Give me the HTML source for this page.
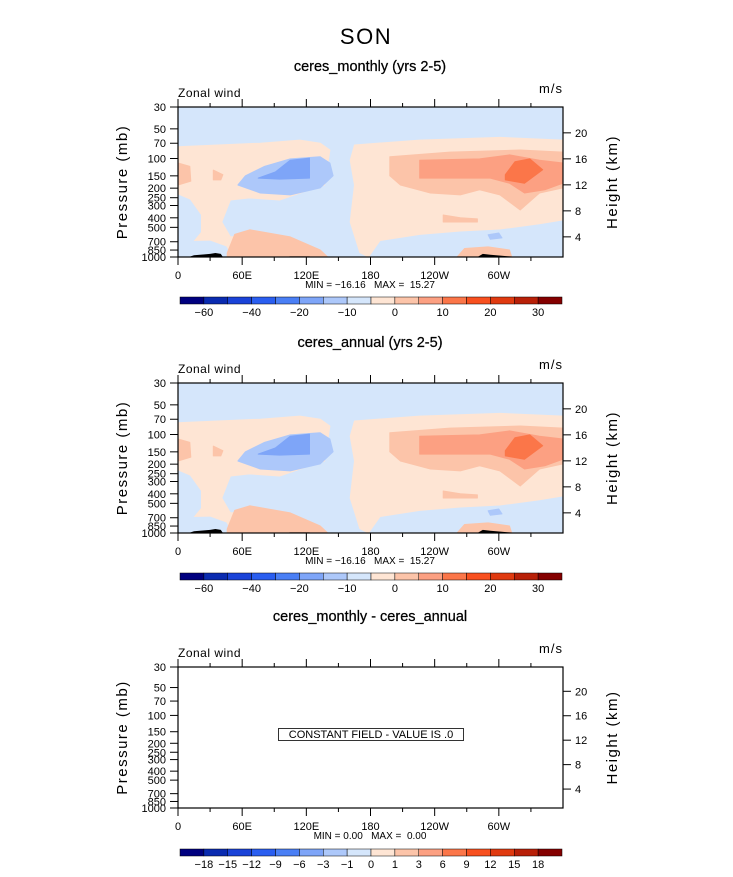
<!DOCTYPE html>
<html><head><meta charset="utf-8">
<style>
body{margin:0;background:#fff;}
svg text{font-family:"Liberation Sans",sans-serif;fill:#000;}
</style></head>
<body>
<svg id="chart" width="733" height="872" viewBox="0 0 733 872" xmlns="http://www.w3.org/2000/svg">
<text x="366" y="44" font-size="22" text-anchor="middle" font-weight="300" fill="#222" style="letter-spacing:1.5px">SON</text>
</svg>
<script>
// ---- data ----
const pressureTicks=[30,50,70,100,150,200,250,300,400,500,700,850,1000];
const heightTicks=[20,16,12,8,4];
const lonTicks=[0,60,120,180,240,300];
const lonLabels=["0","60E","120E","180","120W","60W"];
const cbColors=["#00007f","#0a2bb0","#1a43d8","#2a5ef0","#4a7ff5","#7ea5f8","#adc8fa","#d5e6fb","#fee5d4","#fcc4a9","#fca082","#fb7649","#f8501f","#e03a10","#b82008","#840000"];
const cbLabelsMain=["-60","","-40","","-20","","-10","","0","","10","","20","","30"];
const cbLabelsDiff=["-18","-15","-12","-9","-6","-3","-1","0","1","3","6","9","12","15","18"];
const panelTitles=["ceres_monthly (yrs 2-5)","ceres_annual (yrs 2-5)","ceres_monthly - ceres_annual"];
const minVals=["-16.16","-16.16","0.00"];
const maxVals=["15.27","15.27","0.00"];
// contour regions: [colorIndex, [[lon,p],...]]
const contours=[
 [8,[[0,76],[77,70],[114,65],[133,70],[142,82],[137,186],[123,208],[95,264],[67,251],[49,264],[41,441],[49,625],[77,595],[105,752],[133,1000],[0,1000]]],
 [7,[[0,234],[11,264],[21,375],[21,556],[11,752],[0,808]]],
 [7,[[0,700],[30,690],[45,790],[50,1000],[0,1000]]],
 [8,[[165,73],[226,65],[301,61],[360,65],[360,420],[338,460],[301,520],[264,545],[226,590],[189,680],[178,1000],[170,900],[161,441],[165,186],[161,104]]],
 [9,[[198,96],[254,86],[320,82],[360,86],[360,199],[338,224],[320,333],[301,234],[282,208],[264,234],[236,224],[208,186],[198,150]]],
 [10,[[226,104],[282,101],[310,92],[338,104],[360,111],[360,178],[343,208],[324,224],[310,178],[292,158],[226,158]]],
 [11,[[306,146],[315,108],[329,101],[341,130],[324,178],[306,165]]],
 [9,[[248,375],[264,400],[280,410],[280,441],[248,441]]],
 [9,[[46,910],[53,590],[67,530],[105,625],[133,850],[140,1000],[46,1000]]],
 [9,[[261,1000],[268,820],[290,790],[310,850],[312,1000]]],
 [9,[[33,131],[42,146],[40,165],[33,165]]],
 [9,[[0,111],[11,120],[12,170],[0,186]]],
 [6,[[56,186],[63,150],[81,120],[105,101],[133,96],[142,111],[145,150],[133,199],[105,234],[77,224]]],
 [5,[[75,158],[91,137],[105,104],[123,99],[123,158],[95,162]]],
 [6,[[290,595],[300,570],[303,640],[292,660]]]
];
const topo=[[[10,1000],[15,960],[30,930],[35,910],[40,930],[42,1000]],[[98,1000],[105,985],[123,985],[125,1000]],[[280,1000],[285,930],[292,950],[310,985],[320,1000]]];

const NS="http://www.w3.org/2000/svg";
const svg=document.getElementById('chart');
function mk(tag,attrs,parent){const e=document.createElementNS(NS,tag);for(const k in attrs)e.setAttribute(k,attrs[k]);(parent||svg).appendChild(e);return e;}

const panels=[{top:107,bot:257,cbY:297,title:64,fill:true,labels:cbLabelsMain},
              {top:383,bot:533,cbY:573,title:340,fill:true,labels:cbLabelsMain},
              {top:667,bot:808,cbY:849,title:614,fill:false,labels:cbLabelsDiff}];
const X0=178,X1=563;

panels.forEach((P,i)=>{
  const g=mk('g',{});
  
  
  const xs=lon=>X0+lon/360*(X1-X0);
  const ys=p=>P.top+Math.log(p/30)/Math.log(1000/30)*(P.bot-P.top);
  const t=mk('text',{x:370,y:P.title+7,'font-size':14.5,'text-anchor':'middle','stroke':'#000','stroke-width':0.25},g);t.textContent=panelTitles[i];
  
  
  if(P.fill){
    const bg=mk('rect',{x:X0,y:P.top,width:X1-X0,height:P.bot-P.top,fill:cbColors[7]},g);
    
    
    contours.forEach(c=>{
      const pts=c[1].map(q=>xs(q[0]).toFixed(1)+','+ys(q[1]).toFixed(1)).join(' ');
      const pg=mk('polygon',{points:pts,fill:cbColors[c[0]],'stroke':cbColors[c[0]],'stroke-width':1,'stroke-linejoin':'round'},g);
      
      
    });
    topo.forEach(tp=>{
      const pts=tp.map(q=>xs(q[0]).toFixed(1)+','+ys(q[1]).toFixed(1)).join(' ');
      const pg=mk('polygon',{points:pts,fill:'#000'},g);
      
      
    });
  } else {
    const r=mk('rect',{x:278.5,y:728.5,width:185,height:12,fill:'none',stroke:'#000','stroke-width':0.8},g);
    
    
    const ct=mk('text',{x:371,y:738,'font-size':11,'text-anchor':'middle'},g);ct.textContent='CONSTANT FIELD - VALUE IS .0';
    
    
  }
  const fr=mk('rect',{x:X0,y:P.top,width:X1-X0,height:P.bot-P.top,fill:'none',stroke:'#000','stroke-width':1.2},g);
  
  
  for(let lon=0;lon<=330;lon+=30){
    const major=lon%60===0;const L=major?8:4;
    mk('line',{x1:xs(lon),x2:xs(lon),y1:P.top,y2:P.top-L,stroke:'#000'},g);
    mk('line',{x1:xs(lon),x2:xs(lon),y1:P.bot,y2:P.bot+L,stroke:'#000'},g);
  }
  lonTicks.forEach((lon,k)=>{
    const tx=mk('text',{x:xs(lon),y:P.bot+22,'font-size':11,'text-anchor':'middle'},g);tx.textContent=lonLabels[k];
    
    
  });
  pressureTicks.forEach(p=>{
    mk('line',{x1:X0,x2:X0-8,y1:ys(p),y2:ys(p),stroke:'#000'},g);
    const tx=mk('text',{x:X0-12,y:ys(p)+4,'font-size':11,'text-anchor':'end'},g);tx.textContent=p;
    
    
  });
  heightTicks.forEach(h=>{
    const p=1147*Math.exp(-h/6.58);
    mk('line',{x1:X1,x2:X1+8,y1:ys(p),y2:ys(p),stroke:'#000'},g);
    const tx=mk('text',{x:X1+12,y:ys(p)+4,'font-size':11},g);tx.textContent=h;
    
    
  });
  const mid=(P.top+P.bot)/2;
  const yl=mk('text',{x:0,y:0,'font-size':15,'text-anchor':'middle',transform:`translate(127,${mid}) rotate(-90)`,'font-weight':300,fill:'#222',style:'letter-spacing:1.5px'},g);yl.textContent='Pressure (mb)';
  
  
  const yr=mk('text',{x:0,y:0,'font-size':15,'text-anchor':'middle',transform:`translate(617,${mid}) rotate(-90)`,'font-weight':300,fill:'#222',style:'letter-spacing:1.5px'},g);yr.textContent='Height (km)';
  
  
  const zl=mk('text',{x:X0,y:P.top-10,'font-size':12,style:'letter-spacing:0.5px'},g);zl.textContent='Zonal wind';
  
  
  const ul=mk('text',{x:X1,y:P.top-14,'font-size':13,'text-anchor':'end',style:'letter-spacing:1px'},g);ul.textContent='m/s';
  
  
  const mm=mk('text',{x:370,y:P.bot+31,'font-size':10,'text-anchor':'middle',style:'white-space:pre'},g);mm.textContent='MIN = '+minVals[i].replace('-','\u2212')+'   MAX =  '+maxVals[i];
  
  
  const cw=(562-180)/cbColors.length;
  cbColors.forEach((c,k)=>{
    const r=mk('rect',{x:180+k*cw,y:P.cbY,width:cw,height:7,fill:c,stroke:'#000','stroke-width':0.5},g);
    
    
  });
  P.labels.forEach((l,k)=>{
    if(!l)return;
    const tx=mk('text',{x:180+(k+1)*cw,y:P.cbY+19,'font-size':11,'text-anchor':'middle'},g);tx.textContent=l.replace('-','\u2212');
    
    
  });
});
</script>
</body></html>
